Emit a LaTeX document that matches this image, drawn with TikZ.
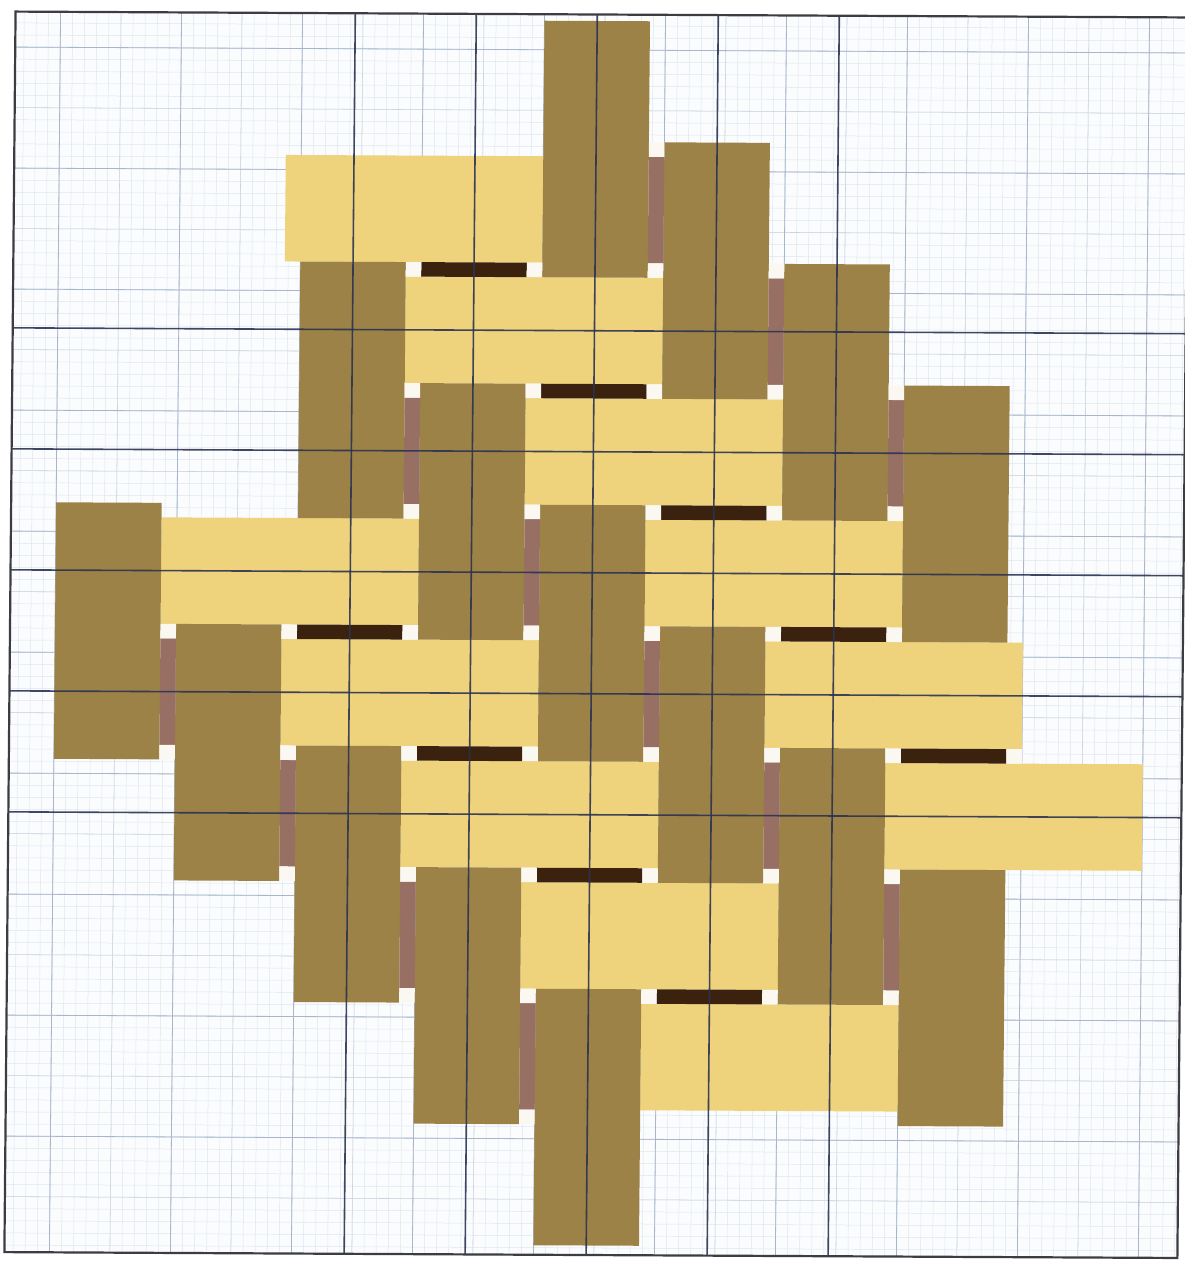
\documentclass[tikz,border=0pt]{standalone}
\usepackage{xcolor}
\definecolor{yel}{HTML}{EED27C}
\definecolor{olv}{HTML}{9C8247}
\definecolor{brn}{HTML}{3A220E}
\definecolor{mve}{HTML}{977063}
\definecolor{wht}{HTML}{FAF8F1}
\definecolor{paper}{HTML}{FBFCFE}
\definecolor{minorc}{HTML}{DEE6F0}
\definecolor{midc}{HTML}{CBD4E1}
\definecolor{majorc}{HTML}{A9B6CA}
\definecolor{inkc}{HTML}{2A3352}
\definecolor{framec}{HTML}{3C3C42}
\tikzset{
  minorline/.style={minorc, line width=0.5pt},
  midline/.style={midc, line width=0.55pt},
  paperline/.style={majorc, line width=0.8pt},
  inkline/.style={inkc, line width=1.6pt, opacity=0.9},
  framebox/.style={framec, line width=2.2pt},
}
\begin{document}
\begin{tikzpicture}[x=1pt,y=-1pt]
\useasboundingbox (0,0) rectangle (1184,1263);
\fill[white] (0,0) rectangle (1184,1263);
\begin{scope}[shift={(592,631)}, xslant=0.009, yslant=-0.005, shift={(-592,-631)}]
  % paper
  \fill[paper] (10,14.5) rectangle (1183,1255);
  \begin{scope}
    \clip (10,14.5) rectangle (1183,1255);
    \foreach \n in {-5,...,95} \draw[minorline] ({55+12.1*\n},0) -- ({55+12.1*\n},1270);
    \foreach \n in {-5,...,102} \draw[minorline] (0,{50+12.1*\n}) -- (1190,{50+12.1*\n});
    \foreach \n in {-1,...,19} \draw[midline] ({55+60.5*\n},0) -- ({55+60.5*\n},1270);
    \foreach \n in {-1,...,20} \draw[midline] (0,{50+60.5*\n}) -- (1190,{50+60.5*\n});
    \foreach \n in {0,...,9} \draw[paperline] ({55+121*\n},0) -- ({55+121*\n},1270);
    \foreach \n in {0,...,10} \draw[paperline] (0,{50+121*\n}) -- (1190,{50+121*\n});
  \end{scope}
  % yellow horizontal strips
  \foreach \k/\j in {2/0,3/1,4/2,5/3,6/4,7/5,1/3,2/4,3/5,4/6,5/7}
    \fill[yel] ({55+121*\k-15.5},{156.5+121*(\j)}) rectangle ({55+121*(\k+2)},{156.5+121*(\j)+106.5});
  % olive vertical strips
  \foreach \k/\j in {4/-1,5/0,6/1,7/2,2/1,3/2,4/3,5/4,6/5,7/6,0/3,1/4,2/5,3/6,4/7}
    \fill[olv] ({55+121*\k},{156.5+121*(\j)-14.5}) rectangle ({55+121*\k+105.5},{156.5+121*(\j+2)});
  % dark brown gaps with white corners
  \foreach \k/\j in {3/1,4/2,5/3,6/4,7/5,2/4,3/5,4/6,5/7} {
    \fill[brn] ({55+121*\k},{156.5+121*(\j)-14.5}) rectangle ({55+121*\k+105.5},{156.5+121*(\j)});
    \fill[wht] ({55+121*\k-15.5},{156.5+121*(\j)-14.5}) rectangle ({55+121*\k},{156.5+121*(\j)});
    \fill[wht] ({55+121*\k+105.5},{156.5+121*(\j)-14.5}) rectangle ({55+121*(\k+1)},{156.5+121*(\j)});
  }
  % mauve gaps with white corners
  \foreach \k/\j in {4/-1,5/0,6/1,2/1,3/2,4/3,5/4,6/5,0/3,1/4,2/5,3/6} {
    \fill[mve] ({55+121*\k+105.5},{156.5+121*(\j+1)}) rectangle ({55+121*(\k+1)},{156.5+121*(\j+1)+106.5});
    \fill[wht] ({55+121*\k+105.5},{156.5+121*(\j+1)-14.5}) rectangle ({55+121*(\k+1)},{156.5+121*(\j+1)});
    \fill[wht] ({55+121*\k+105.5},{156.5+121*(\j+1)+106.5}) rectangle ({55+121*(\k+1)},{156.5+121*(\j+2)});
  }
  % drawn guide lines
  \foreach \k in {2,...,6} \draw[inkline] ({55+121*\k+52.75},14.5) -- ({55+121*\k+52.75},1255);
  \foreach \j in {1,...,5} \draw[inkline] (10,{156.5+121*\j+53.25}) -- (1183,{156.5+121*\j+53.25});
  % frame
  \draw[framebox] (10,14.5) rectangle (1183,1255);
\end{scope}
\end{tikzpicture}
\end{document}
